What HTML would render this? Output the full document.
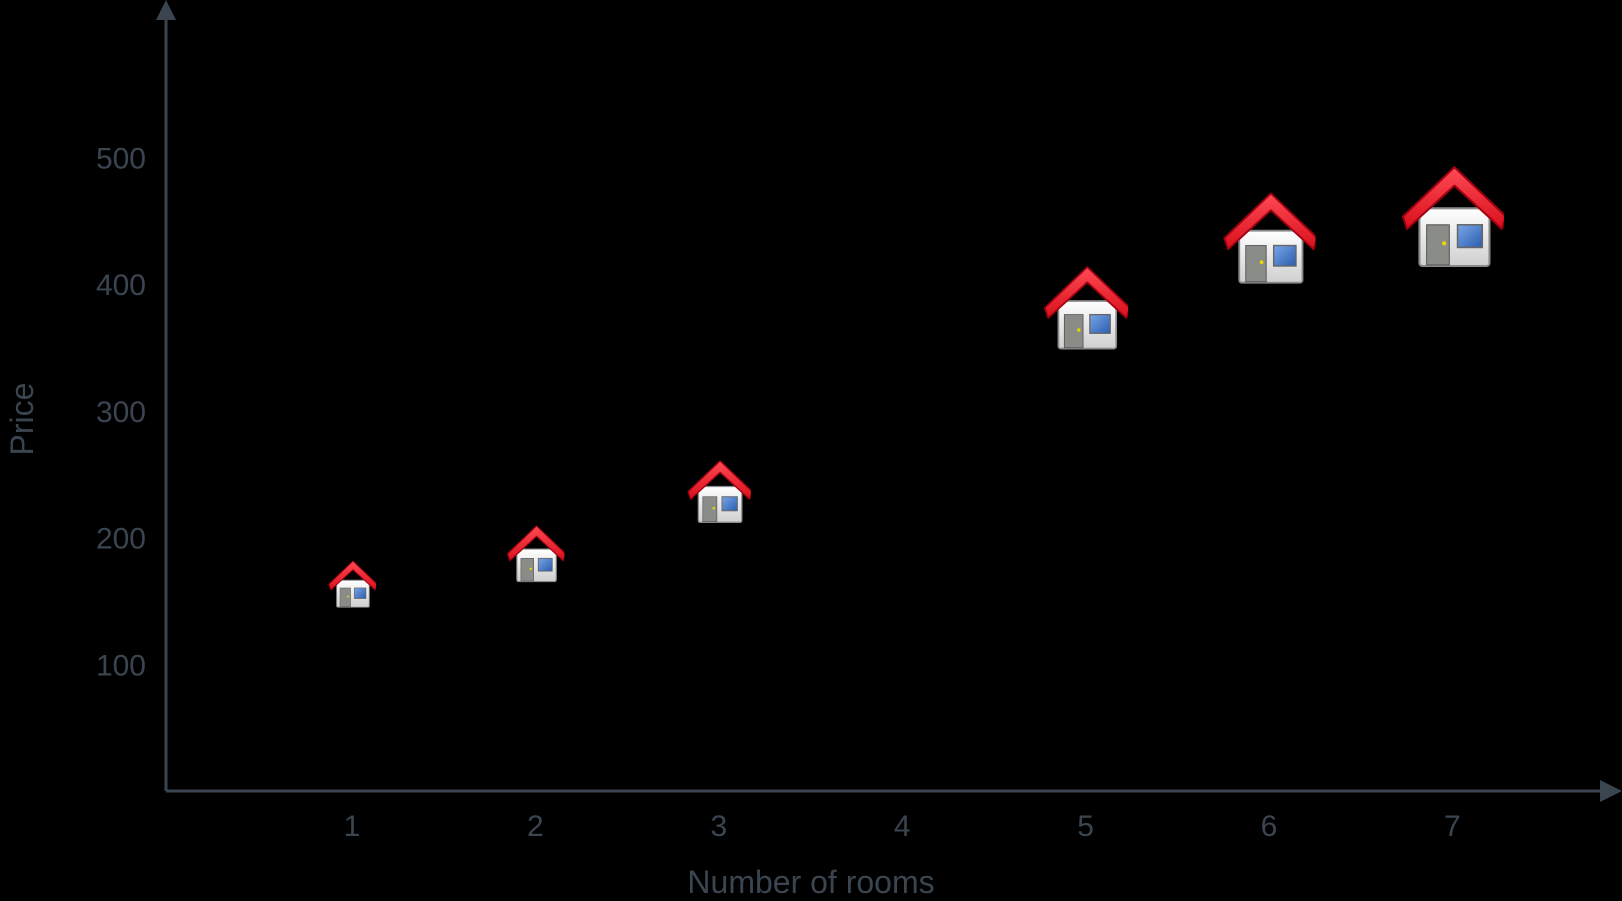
<!DOCTYPE html>
<html><head><meta charset="utf-8"><style>
html,body{margin:0;padding:0;background:#000;}
svg{display:block;font-family:"Liberation Sans",sans-serif;}
</style></head><body>
<svg id="chart" width="1622" height="901" viewBox="0 0 1622 901">
<defs>
<linearGradient id="wall" x1="0" y1="0" x2="0" y2="1"><stop offset="0" stop-color="#ffffff"/><stop offset="1" stop-color="#cfcfcf"/></linearGradient>
<linearGradient id="roof" x1="0" y1="0" x2="0" y2="1"><stop offset="0" stop-color="#ff4a55"/><stop offset="1" stop-color="#d8101c"/></linearGradient>
<linearGradient id="win" x1="0" y1="0" x2="1" y2="1"><stop offset="0" stop-color="#7aa6e6"/><stop offset="1" stop-color="#2a5db0"/></linearGradient>
<symbol id="house" viewBox="0 0 100 100">
<rect x="18" y="42" width="68" height="56" rx="3" fill="url(#wall)" stroke="#8a8a8a" stroke-width="2"/>
<rect x="25" y="58" width="22" height="39" fill="#8a8c88" stroke="#555" stroke-width="1"/>
<circle cx="42" cy="76" r="2" fill="#e8d800"/>
<rect x="55" y="58" width="24" height="22" fill="url(#win)" stroke="#666" stroke-width="1.5"/>
<path d="M2,50 L52,2 L102,50 L98,62 L52,20 L6,62 Z" fill="url(#roof)" stroke="#a00010" stroke-width="2" stroke-linejoin="round"/>
</symbol>
</defs>
<g id="axes" stroke="#3a4550" stroke-width="3" fill="#3a4550">
<line x1="166" y1="791" x2="166" y2="14"/>
<polygon points="156,20 166,0 176,20" stroke="none"/>
<line x1="166" y1="791" x2="1605" y2="791"/>
<polygon points="1600,780 1622,791 1600,802" stroke="none"/>
</g>
<g id="yticks"></g><g id="xticks"></g><g id="marks"></g>
<text x="811" y="893" text-anchor="middle" font-size="32" fill="#3a4550">Number of rooms</text>
<text transform="translate(33,419) rotate(-90)" text-anchor="middle" font-size="32" fill="#3a4550">Price</text>
</svg>
<script>
const rooms = [1, 2, 3, 5, 6, 7];
const prices = [164, 188, 237, 382, 437, 454];
const iconSizes = [48, 58, 64, 85, 93, 103];
const xTickLabels = ["1", "2", "3", "4", "5", "6", "7"];
const yTickLabels = [100, 200, 300, 400, 500];
const NS = "http://www.w3.org/2000/svg";
function xScale(v){ return 352 + (v - 1) * 183.4; }
function yScale(v){ return 792 - v * 1.2675; }
const yt = document.getElementById('yticks');
yTickLabels.forEach(v => {
  const t = document.createElementNS(NS, 'text');
  
  
  t.setAttribute('x', 146); t.setAttribute('y', yScale(v) + 10);
  t.setAttribute('text-anchor', 'end'); t.setAttribute('font-size', '30'); t.setAttribute('fill', '#3a4550');
  t.textContent = v; yt.appendChild(t);
});
const xt = document.getElementById('xticks');
xTickLabels.forEach(l => {
  const t = document.createElementNS(NS, 'text');
  
  
  t.setAttribute('x', xScale(+l)); t.setAttribute('y', 836);
  t.setAttribute('text-anchor', 'middle'); t.setAttribute('font-size', '30'); t.setAttribute('fill', '#3a4550');
  t.textContent = l; xt.appendChild(t);
});
const mk = document.getElementById('marks');
rooms.forEach((r, i) => {
  const s = iconSizes[i];
  const u = document.createElementNS(NS, 'use');
  
  
  u.setAttribute('href', '#house');
  u.setAttribute('x', xScale(r) - s / 2); u.setAttribute('y', yScale(prices[i]) - s / 2);
  u.setAttribute('width', s); u.setAttribute('height', s);
  mk.appendChild(u);
});
</script>
</body></html>
